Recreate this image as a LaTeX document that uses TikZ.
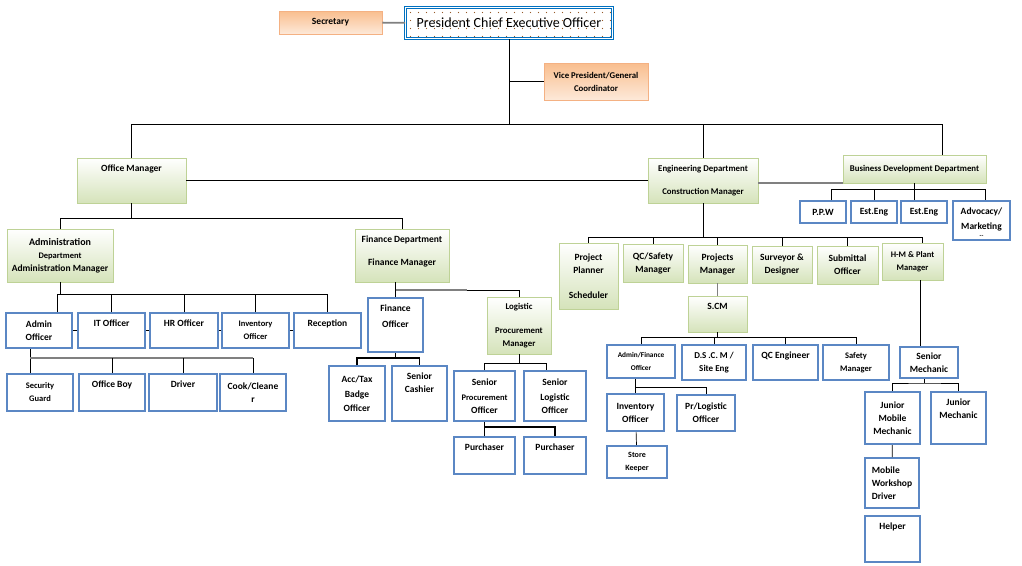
\documentclass[tikz,border=0pt]{standalone}
\usepackage{fontspec}
\setmainfont{Carlito}
\usetikzlibrary{shadows}
\definecolor{boxblue}{RGB}{91,135,196}
\definecolor{presblue}{RGB}{0,112,192}
\definecolor{greenedge}{RGB}{190,210,150}
\definecolor{greenfill}{RGB}{213,227,186}
\definecolor{orangeedge}{RGB}{244,177,131}
\definecolor{orangefill}{RGB}{249,190,142}
\definecolor{peach}{RGB}{253,233,217}
\definecolor{dotbrown}{RGB}{150,90,40}
\newcommand{\boxfont}[1]{\fontsize{#1}{13}\bfseries\selectfont}
\tikzset{
  boxsize/.style 2 args={minimum width=#1pt, minimum height=#2pt},
  base/.style={inner sep=1pt, align=center, font=\boxfont{9.5}},
  softshadow/.style={drop shadow={shadow xshift=1.2pt, shadow yshift=-1.2pt, opacity=.25, fill=black!50}},
  greenbox/.style={base, draw=greenedge, top color=white, bottom color=greenfill, softshadow},
  orangebox/.style={base, draw=orangeedge, top color=orangefill, bottom color=peach, softshadow},
  bluebox/.style={base, draw=boxblue, line width=2pt, fill=white},
  presbox/.style={base, draw=presblue, double=white, double distance=1.2pt, line width=.9pt,
    fill=white, font=\fontsize{14}{16}\selectfont,
    path picture={\foreach \i in {0,...,26} \foreach \j in {0,...,3}
      \fill[dotbrown] ([shift={(\i*8+5,\j*8+5)}]path picture bounding box.north west) circle (.55pt);}},
  toplabel/.style={anchor=north, yshift=-6pt, align=center, inner sep=1pt, font=\boxfont{9.5}},
  toptext/.style={label={[toplabel]north:{#1}}},
  grayline/.style={draw=black!50, line width=1.8pt},
  thickline/.style={line width=1.6pt}
}
\begin{document}
\begin{tikzpicture}[x=1pt, y=-1pt, line width=.7pt]
\useasboundingbox (0,0) rectangle (1022,565);

% top level
\node[presbox, boxsize={207}{31}] (pres) at (509,23) {President Chief Executive Officer};
\node[orangebox, boxsize={103}{23}] (sec) at (330.5,22.5) {Secretary};
\node[orangebox, boxsize={104}{37}, font=\boxfont{8.8}] (vp) at (596,81.5) {Vice President/General\\Coordinator};

% departments
\node[greenbox, boxsize={109}{45}, toptext={Office Manager}] (om) at (131.5,180.5) {};
\node[greenbox, boxsize={110}{45}, font=\boxfont{8.8}] (eng) at (703,180.5) {Engineering Department\\[10pt]Construction Manager};
\node[greenbox, boxsize={143}{28}, font=\boxfont{8.8}] (bd) at (914.5,169) {Business Development Department};
\node[greenbox, boxsize={106}{53}] (adm) at (60,255.5) {{\boxfont{10}Administration}\\{\boxfont{8.5}Department}\\Administration Manager};
\node[greenbox, boxsize={94}{53}, toptext={Finance Department\\[10pt]Finance Manager}] (fin) at (402,255.5) {};

% business development
\node[bluebox, boxsize={46}{22}] (ppw) at (823,212) {P.P.W};
\node[bluebox, boxsize={46}{22}] (ee1) at (874,212) {Est.Eng};
\node[bluebox, boxsize={46}{22}] (ee2) at (924,212) {Est.Eng};
\node[bluebox, boxsize={57}{39}, toptext={Advocacy/\\[2pt]Marketing\\[-5pt]{\boxfont{6}-{}-}}] (adv) at (981.5,220.5) {};

% administration
\node[bluebox, boxsize={66}{35}] (ao) at (39,330.5) {Admin\\Officer};
\node[bluebox, boxsize={67}{35}, toptext={IT Officer}] (it) at (111.5,330.5) {};
\node[bluebox, boxsize={68}{35}, toptext={HR Officer}] (hr) at (184,330.5) {};
\node[bluebox, boxsize={67}{35}, font=\boxfont{8.5}] (inv) at (255.5,330.5) {Inventory\\Officer};
\node[bluebox, boxsize={67}{35}, toptext={Reception}] (rec) at (327.5,330.5) {};
\node[bluebox, boxsize={66}{37}, font=\boxfont{8.5}] (sg) at (40,392.5) {Security\\Guard};
\node[bluebox, boxsize={66}{37}, toptext={Office Boy}] (ob) at (112,392.5) {};
\node[bluebox, boxsize={68}{37}, toptext={Driver}] (dr) at (183,392.5) {};
\node[bluebox, boxsize={66}{37}] (cc) at (253,392.5) {Cook/Cleane\\r};

% finance
\node[bluebox, boxsize={55}{54}, toptext={Finance\\[3pt]Officer}] (fo) at (395.5,325) {};
\node[greenbox, boxsize={64}{57}, font=\boxfont{8.8}] (log) at (519,325.5) {Logistic\\[11pt]Procurement\\Manager};
\node[bluebox, boxsize={56}{55}] (ac) at (357,393.5) {Acc/Tax\\[2pt]Badge\\[1pt]Officer};
\node[bluebox, boxsize={55}{55}, toptext={Senior\\Cashier}] (sc) at (419.5,393.5) {};
\node[bluebox, boxsize={61}{50}] (spo) at (484.5,396) {Senior\\[2pt]{\boxfont{8.5}Procurement}\\Officer};
\node[bluebox, boxsize={62}{50}] (slo) at (555,396) {Senior\\[2pt]Logistic\\Officer};
\node[bluebox, boxsize={61}{37}, toptext={Purchaser}] (pu1) at (484.5,455.5) {};
\node[bluebox, boxsize={62}{37}, toptext={Purchaser}] (pu2) at (555,455.5) {};

% engineering
\node[greenbox, boxsize={59}{66}] (pp) at (588.5,276) {Project\\Planner\\[12pt]Scheduler};
\node[greenbox, boxsize={60}{38}] (qc) at (653,263) {QC/Safety\\Manager};
\node[greenbox, boxsize={59}{38}] (pm) at (717.5,264) {Projects\\Manager};
\node[greenbox, boxsize={60}{37}] (sd) at (782,264.5) {Surveyor \&\\Designer};
\node[greenbox, boxsize={61}{38}] (so) at (847.5,265) {Submittal\\Officer};
\node[greenbox, boxsize={61}{37}, font=\boxfont{8.5}] (hm) at (912.5,261.5) {H-M \& Plant\\Manager};
\node[greenbox, boxsize={59}{36}, toptext={S.CM}] (scm) at (717.5,314) {};
\node[bluebox, boxsize={68}{33}, font=\boxfont{7.3}] (af) at (641,361.5) {Admin/Finance\\Officer};
\node[bluebox, boxsize={64}{35}, font=\boxfont{9}] (dscm) at (714,362.5) {D.S .C. M /\\Site Eng};
\node[bluebox, boxsize={65}{35}, toptext={QC Engineer}] (qce) at (785.5,362.5) {};
\node[bluebox, boxsize={66}{35}, font=\boxfont{8.5}] (sfm) at (856,362.5) {Safety\\Manager};
\node[bluebox, boxsize={58}{31}] (smc) at (929,362.5) {Senior\\Mechanic};
\node[bluebox, boxsize={57}{37}] (io) at (635.5,412.5) {Inventory\\Officer};
\node[bluebox, boxsize={58}{36}] (plo) at (706,413) {Pr/Logistic\\Officer};
\node[bluebox, boxsize={60}{32}, font=\boxfont{8}] (sk) at (637,462) {Store\\Keeper};
\node[bluebox, boxsize={55}{52}] (jmm) at (892.5,418) {Junior\\Mobile\\Mechanic};
\node[bluebox, boxsize={55}{52}, toptext={Junior\\Mechanic}] (jm) at (958.5,418) {};
\node[bluebox, boxsize={54}{50}, align=left] (mwd) at (892,483) {Mobile\\Workshop\\Driver};
\node[bluebox, boxsize={55}{46}, toptext={Helper}] (hlp) at (892.5,539) {};

% top connectors
\draw[grayline] (sec) -- (pres);
\draw (pres.south) -- ++(0,85) coordinate (top-bus);
\draw (vp.west) -- (vp.west -| pres.south);
\draw (om.north) |- (top-bus) -| ([xshift=27.5pt]bd.north);
\draw (eng.north) -- (eng.north |- top-bus);
\draw (om) -- (eng);
\draw[grayline] (eng.east |- bd.south west) -- (bd.south west);

% office manager
\draw (om.south) -- ++(0,15) coordinate (om-bus);
\draw (adm.north) |- (om-bus) -| (fin.north);
\draw (adm.south) -- ++(0,12) coordinate (adm-bus);
\draw ([xshift=18pt]ao.north) |- (adm-bus) -| (rec.north);
\foreach \n in {it,hr,inv}
  \draw (\n.north) -- (\n.north |- adm-bus);
\foreach \a/\b in {ao/it,it/hr,hr/inv,inv/rec}
  \draw (\a) -- (\b);
\draw ([xshift=-9pt]ao.south) -- ++(0,9) coordinate (ao-bus);
\draw (ao-bus) -- (ao-bus |- sg.north);
\draw[grayline] (ao-bus) -- (ao-bus -| cc.north);
\foreach \n in {ob,dr,cc}
  \draw (ao-bus -| \n.north) -- (\n.north);

% finance
\draw (fin.south -| fo.north) -- (fo.north);
\draw[grayline] (fin.south -| fo.north) ++(0,8) coordinate (fin-bus) -- ++(71,0) coordinate (fin-mid);
\draw (fin-mid) -| (log.north);
\draw[thickline] (fo.south) -- ++(0,5) coordinate (fo-bus);
\draw[thickline] (ac.north) |- (fo-bus) -| (sc.north);
\draw (log.south) -- ++(0,9) coordinate (log-bus);
\draw (spo.north) |- (log-bus) -| ([xshift=-9pt]slo.north);
\draw (spo.south) -- ++(0,5) coordinate (spo-bus);
\draw[thickline] (pu1.north) |- (spo-bus) -| (pu2.north);

% engineering
\draw (eng.south) -- ++(0,34) coordinate (eng-bus);
\draw (pp.north) |- (eng-bus) -| ([xshift=10pt]hm.north);
\foreach \n in {qc,pm,sd,so}
  \draw (\n.north) -- (\n.north |- eng-bus);
\draw[grayline] (pm) -- (scm);
\draw (scm.south) -- ++(0,5) coordinate (scm-bus);
\draw (af.north) |- (scm-bus) -| (sfm.north);
\foreach \n in {dscm,qce}
  \draw (\n.north) -- (\n.north |- scm-bus);
\draw ([xshift=-6pt]af.south) -- ++(0,8) coordinate (af-bus);
\draw (af-bus) -- (af-bus |- io.north);
\draw (af-bus) -| (plo.north);
\draw (io) -- (sk);
\draw ([xshift=8pt]hm.south) -- ([xshift=-8.5pt]smc.north);
\draw ([xshift=-5pt]smc.south) -- ++(0,4) coordinate (smc-bus);
\draw (jmm.north) |- (smc-bus) -| (jm.north);
\draw (jmm) -- (mwd);

% business development
\draw (bd.south) -- (bd.south |- ee2.north);
\draw ([xshift=8pt]ppw.north) -- ++(0,-11) coordinate (bd-bus) -| ([xshift=3.5pt]adv.north);
\draw (ee1.north) -- (ee1.north |- bd-bus);
\end{tikzpicture}
\end{document}
